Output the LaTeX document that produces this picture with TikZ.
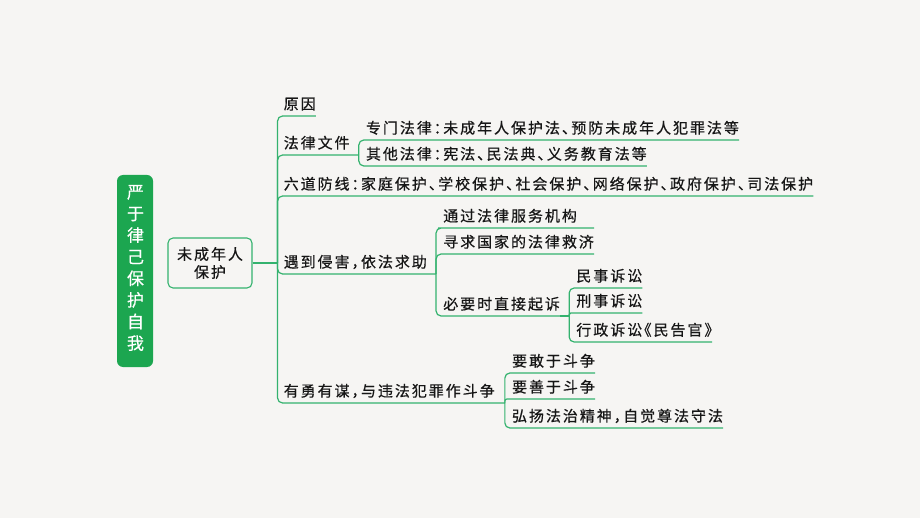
\documentclass[tikz,border=0pt]{standalone}
\usepackage{fontspec}
\setmainfont{Noto Sans CJK SC}[RawFeature=+halt, LetterSpace=13, FakeBold=0.5]
\definecolor{bg}{RGB}{246,245,243}
\definecolor{lineg}{RGB}{52,178,110}
\definecolor{rootg}{RGB}{28,166,80}
\definecolor{txt}{RGB}{22,22,22}
\newcommand{\lblfont}{\fontsize{15}{18}\selectfont}
\begin{document}
\begin{tikzpicture}[x=1pt,y=-1pt,
  ln/.style={draw=lineg, line width=1.2pt, rounded corners=5pt},
  lbl/.style={anchor=south west, inner sep=0pt, text depth=6.3pt, font=\lblfont, text=txt},
  rootbox/.style={fill=rootg, rounded corners=6pt, minimum width=36pt, minimum height=192pt,
    inner sep=0pt, text=white, align=center, font=\fontsize{17}{21.6}\selectfont},
  subbox/.style={draw=lineg, line width=1.1pt, rounded corners=5pt, minimum width=84pt,
    minimum height=50pt, inner sep=0pt, align=center, text=txt, font=\fontsize{15}{18}\selectfont}
]
\useasboundingbox[fill=bg] (0,0) rectangle (920,518);

\node[rootbox] (root) at (135,271) {};
\node[text=white, align=center, inner sep=0pt, font=\fontsize{17}{21.6}\selectfont] (roottext) at (135.5,268) {严\\于\\律\\己\\保\\护\\自\\我};
\node[subbox] (minor) at (210,263) {未成年人\\保护};
\coordinate (J1) at ([xshift=25pt]minor.east);
\draw[ln] (minor.east) -- (J1);

% level 1
\node[lbl, xshift=6pt] (yy) at (J1 |- 0,116) {原因};
\node[lbl, xshift=6pt] (fl) at (J1 |- 0,155) {法律文件};
\node[lbl, xshift=6pt] (ld) at (J1 |- 0,196) {六道防线：家庭保护、学校保护、社会保护、网络保护、政府保护、司法保护};
\node[lbl, xshift=6pt] (yd) at (J1 |- 0,274) {遇到侵害，依法求助};
\node[lbl, xshift=6pt] (yo) at (J1 |- 0,403) {有勇有谋，与违法犯罪作斗争};
\coordinate (J2) at ([xshift=9pt]fl.south east);
\coordinate (J3) at ([xshift=9pt]yd.south east);
\coordinate (J5) at ([xshift=10pt]yo.south east);
\draw[ln] (J1) |- (yy.south east);
\draw[ln] (J1) |- (J2);
\draw[ln] (J1) |- (ld.south east);
\draw[ln] (J1) |- (J3);
\draw[ln] (J1) |- (J5);

% 法律文件
\node[lbl, xshift=7pt] (zm) at (J2 |- 0,140) {专门法律：未成年人保护法、预防未成年人犯罪法等};
\node[lbl, xshift=7pt] (qt) at (J2 |- 0,166) {其他法律：宪法、民法典、义务教育法等};
\draw[ln] (J2) |- (zm.south east);
\draw[ln] (J2) |- (qt.south east);

% 遇到侵害
\node[lbl, xshift=7pt] (tg) at (J3 |- 0,228) {通过法律服务机构};
\node[lbl, xshift=7pt] (xq) at (J3 |- 0,254) {寻求国家的法律救济};
\node[lbl, xshift=7pt] (by) at (J3 |- 0,316) {必要时直接起诉};
\draw[ln] (J3) |- (tg.south west) -- (tg.south west -| xq.south east);
\draw[ln] (J3) |- (xq.south east);
\draw[ln] (J3) |- (by.south east);
\coordinate (J4) at ([xshift=9pt]by.south east);
\draw[ln] (by.south east) -- (J4);

% 必要时直接起诉
\node[lbl, xshift=7pt] (ms) at (J4 |- 0,288) {民事诉讼};
\node[lbl, xshift=7pt] (xs) at (J4 |- 0,313) {刑事诉讼};
\node[lbl, xshift=7pt] (xz) at (J4 |- 0,342) {行政诉讼《民告官》};
\draw[ln] (J4) |- (ms.south east);
\draw[ln, rounded corners=1.5pt] (J4) |- (xs.south east);
\draw[ln] (J4) |- (xz.south east);

% 有勇有谋
\node[lbl, xshift=7pt] (yg) at (J5 |- 0,373) {要敢于斗争};
\node[lbl, xshift=7pt] (ys) at (J5 |- 0,399) {要善于斗争};
\node[lbl, xshift=7pt] (hy) at (J5 |- 0,428) {弘扬法治精神，自觉尊法守法};
\draw[ln] (J5) |- (yg.south east);
\draw[ln, rounded corners=2pt] (J5) |- (ys.south east);
\draw[ln] (J5) |- (hy.south east);
\end{tikzpicture}
\end{document}
